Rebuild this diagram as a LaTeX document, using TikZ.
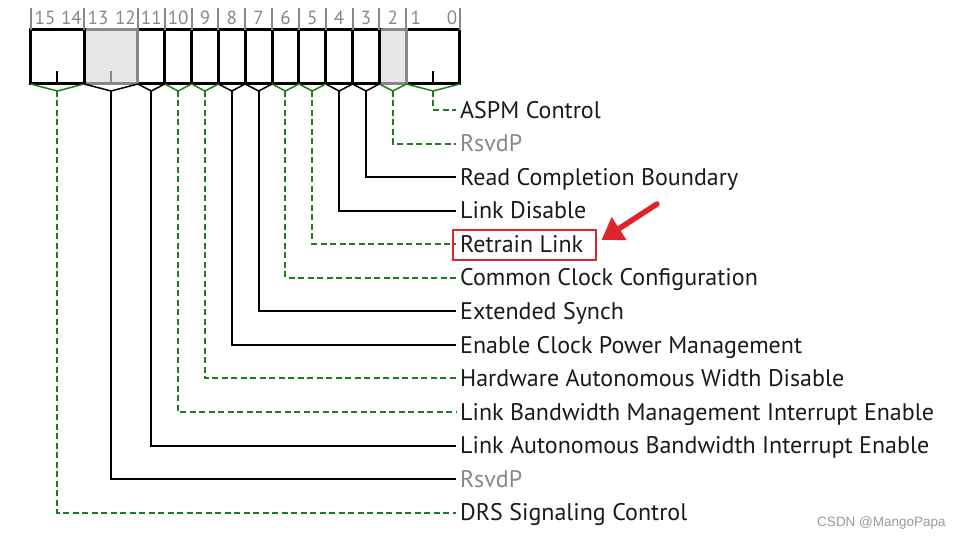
\documentclass[tikz,border=0pt]{standalone}
\usepackage{fontspec}
\setmainfont{PT Sans}
\newfontfamily\wmfont{Liberation Sans}
\usetikzlibrary{arrows.meta,calc}
\definecolor{dgreen}{HTML}{1E7D1E}
\definecolor{rgrey}{HTML}{888888}
\definecolor{rfill}{HTML}{E6E6E6}
\definecolor{mred}{HTML}{E0222A}
\definecolor{txt}{HTML}{1A1A1A}
\newcommand\regfld[4]{\node[#4, minimum width={#3*26.84pt}] (#1) at ({30.5+(#2+#3/2)*26.84},57) {};}
\begin{document}
\begin{tikzpicture}[x=1pt,y=-1pt,
  fld/.style={draw=black, line width=3pt, inner sep=0pt, outer sep=0pt, minimum height=54pt, fill=white},
  rsv/.style={fld, draw=rgrey, fill=rfill},
  bitnum/.style={text=rgrey, font=\fontsize{19}{19}\selectfont, inner sep=0pt},
  tickl/.style={rgrey, line width=2pt},
  lab/.style={anchor=west, inner sep=0pt, text=txt, font=\fontsize{24}{24}\selectfont, text height=16.5pt, text depth=0pt},
  glab/.style={lab, text=rgrey},
  gcon/.style={dgreen, line width=2pt, dash pattern=on 6pt off 3.5pt},
  kcon/.style={black, line width=2pt},
  gchev/.style={dgreen, line width=1.5pt},
  kchev/.style={black, line width=1.5pt}]
\useasboundingbox (0,0) rectangle (962,540);

% register fields, drawn right to left
\regfld{f0}{14}{2}{fld}
\regfld{f2}{13}{1}{rsv}
\regfld{f3}{12}{1}{fld}
\regfld{f4}{11}{1}{fld}
\regfld{f5}{10}{1}{fld}
\regfld{f6}{9}{1}{fld}
\regfld{f7}{8}{1}{fld}
\regfld{f8}{7}{1}{fld}
\regfld{f9}{6}{1}{fld}
\regfld{f10}{5}{1}{fld}
\regfld{f11}{4}{1}{fld}
\regfld{f12}{2}{2}{rsv}
\regfld{f14}{0}{2}{fld}

% inner ticks of two-bit fields
\draw[line width=2pt] (f0.south) -- ++(0,-13);
\draw[line width=2pt, rgrey] (f12.south) -- ++(0,-13);
\draw[line width=2pt] (f14.south) -- ++(0,-13);

% bit ticks
\foreach \f in {f0,f2,f3,f4,f5,f6,f7,f8,f9,f10,f11,f12,f14}
  \draw[tickl] (\f.north west) -- ++(0,-22);
\draw[tickl] (f0.north east) -- ++(0,-22);

% bit numbers
\node[bitnum, anchor=west] (n15) at (34.5,18) {15};
\node[bitnum, anchor=east] (n14) at (82,18) {14};
\node[bitnum, anchor=west] (n13) at (87.5,18) {13};
\node[bitnum, anchor=east] (n12) at (136,18) {12};
\node[bitnum] (n11) at (f11.center |- 0,18) {11};
\node[bitnum] (n10) at (f10.center |- 0,18) {10};
\node[bitnum] (n9) at (f9.center |- 0,18) {9};
\node[bitnum] (n8) at (f8.center |- 0,18) {8};
\node[bitnum] (n7) at (f7.center |- 0,18) {7};
\node[bitnum] (n6) at (f6.center |- 0,18) {6};
\node[bitnum] (n5) at (f5.center |- 0,18) {5};
\node[bitnum] (n4) at (f4.center |- 0,18) {4};
\node[bitnum] (n3) at (f3.center |- 0,18) {3};
\node[bitnum] (n2) at (f2.center |- 0,18) {2};
\node[bitnum, anchor=west] (n1) at (410.5,18) {1};
\node[bitnum, anchor=east] (n0) at (457.5,18) {0};

% labels
\node[lab]  (l0)  at (460,110.0) {ASPM Control};
\node[glab] (l2)  at (460,143.55) {RsvdP};
\node[lab]  (l3)  at (460,177.1) {Read Completion Boundary};
\node[lab]  (l4)  at (460,210.65) {Link Disable};
\node[lab]  (l5)  at (460,244.2) {Retrain Link};
\node[lab]  (l6)  at (460,277.75) {Common Clock Configuration};
\node[lab]  (l7)  at (460,311.3) {Extended Synch};
\node[lab]  (l8)  at (460,344.85) {Enable Clock Power Management};
\node[lab]  (l9)  at (460,378.4) {Hardware Autonomous Width Disable};
\node[lab]  (l10) at (460,411.95) {Link Bandwidth Management Interrupt Enable};
\node[lab]  (l11) at (460,445.5) {Link Autonomous Bandwidth Interrupt Enable};
\node[glab] (l12) at (460,479.05) {RsvdP};
\node[lab]  (l14) at (460,512.6) {DRS Signaling Control};

% chevrons and connectors
\foreach \f/\l/\c in {f0/l0/g,f2/l2/g,f3/l3/k,f4/l4/k,f5/l5/g,f6/l6/g,f7/l7/k,f8/l8/k,f9/l9/g,f10/l10/g,f11/l11/k,f12/l12/k,f14/l14/g}{
  \coordinate (a\f) at ($(\f.south)+(0,7)$);
  \draw[\c chev] (\f.south west) -- (a\f) -- (\f.south east);
  \draw[\c con] (a\f) |- ([xshift=-4pt]\l.west);
}

% highlight
\node[draw=mred, line width=2.4pt, minimum width=143pt, minimum height=30pt, inner sep=0pt] (rb) at (524.2,245) {};
\coordinate (at) at (657,204);
\coordinate (ah) at (601.5,240);
\draw[mred, line width=5.5pt, line cap=round, -{Triangle[length=21pt,width=26pt]}] (at) -- (ah);

% watermark
\node[font=\wmfont\fontsize{13.5}{13.5}\selectfont, text=black!40, inner sep=0pt] (wm) at (881.5,523) {CSDN @MangoPapa};
\end{tikzpicture}
\end{document}
